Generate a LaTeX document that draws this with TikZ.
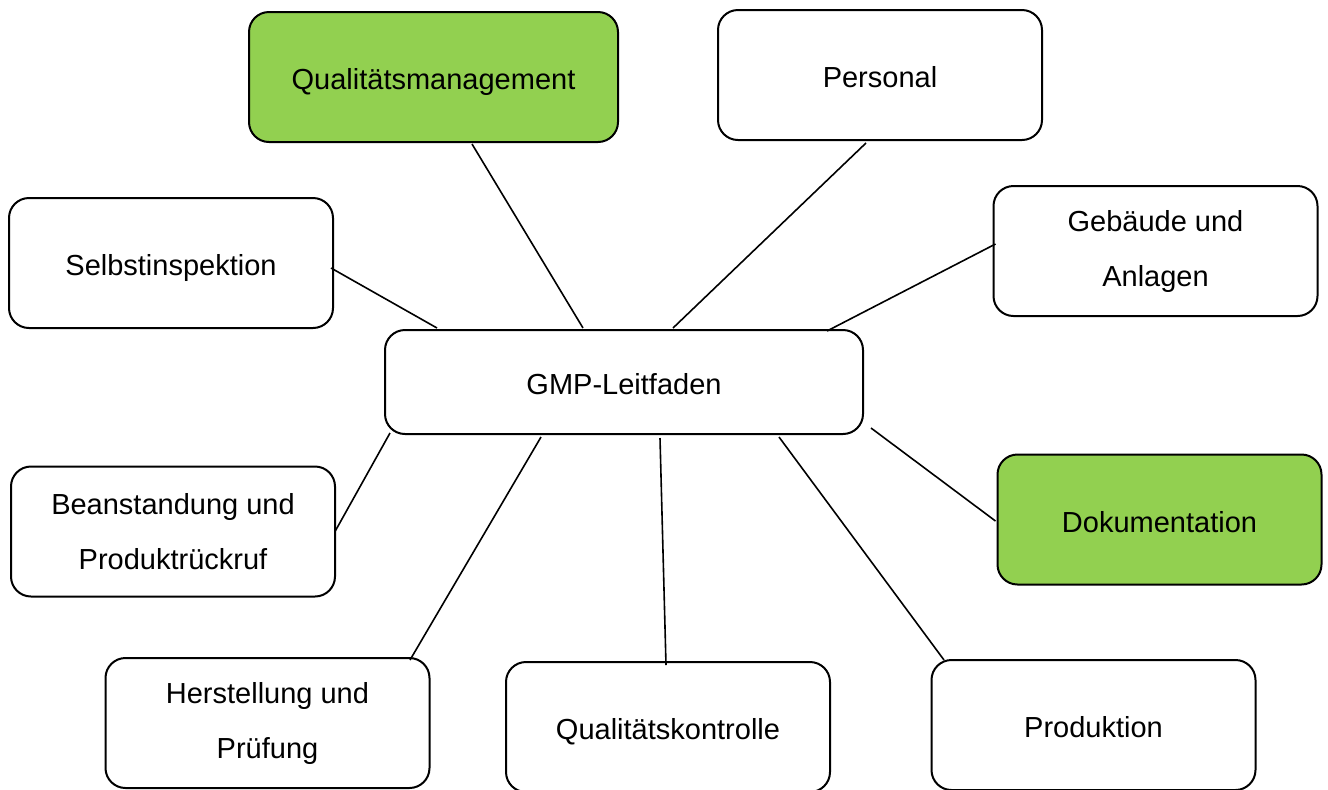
\documentclass[tikz,border=0pt]{standalone}
\usepackage{fontspec}
\setmainfont{Liberation Sans}
\usetikzlibrary{calc}

\definecolor{gmpgreen}{HTML}{92D050}

\tikzset{%
  every topic/.style={
    draw,
    line width=1pt,
    rounded corners=10pt,
    inner sep=0pt,
    minimum width=162pt,
    minimum height=65pt,
    align=center,
    font=\fontsize{14.5}{27.5}\selectfont
  },
  topic single/.style={
    text height=15.5pt,
    text depth=3pt
  },
  topic green/.style={
    fill=gmpgreen
  },
  link/.style={
    line width=0.8pt
  },
}

\begin{document}
\begin{tikzpicture}[x=0.5pt, y=-0.5pt]
  \useasboundingbox (0,0) rectangle (1328,789);

  % centre
  \node [every topic, topic single, minimum width=239pt, minimum height=52pt] (gmp) at (624,382) {GMP-Leitfaden};

  % topics round it
  \node [every topic, topic single, topic green, minimum width=184.5pt] (qm) at (433.5,77) {Qualitätsmanagement};
  \node [every topic, topic single] (personal) at (880,75) {Personal};
  \node [every topic, topic single] (selbst) at (171,263) {Selbstinspektion};
  \node [every topic] (gebaeude) at (1155.5,251) {Gebäude und\\Anlagen};
  \node [every topic] (beanst) at (173,531.5) {Beanstandung und\\Produktrückruf};
  \node [every topic, topic single, topic green] (doku) at (1159.5,519.5) {Dokumentation};
  \node [every topic] (herst) at (267.5,723) {Herstellung und\\Prüfung};
  \node [every topic, topic single] (qk) at (668,727) {Qualitätskontrolle};
  \node [every topic, topic single] (prod) at (1093.5,725) {Produktion};

  % links
  \draw [link] ($(qm.south)+(38.5,1)$) -- ($(gmp.north)+(-41,-1)$);
  \draw [link] ($(personal.south)+(-14,2)$) -- ($(gmp.north)+(49,-1)$);
  \draw [link] ($(selbst.east)+(-3,5)$) -- ($(gmp.north west)+(53,-1)$);
  \draw [link] ($(gebaeude.west)+(3,-7)$) -- ($(gmp.north east)+(-37,2)$);
  \draw [link] ($(beanst.east)+(-1,0)$) -- ($(gmp.south west)+(6,-2)$);
  \draw [link] ($(doku.west)+(-1,1.5)$) -- ($(gmp.south east)+(7,-7)$);
  \draw [link] ($(gmp.south)+(-83,2)$) -- ($(herst.north)+(142.5,3)$);
  \draw [link] ($(gmp.south)+(36,3)$) -- ($(qk.north)+(-2,4)$);
  \draw [link] ($(gmp.south)+(155,2)$) -- ($(prod.north)+(-149.5,1)$);

\end{tikzpicture}
\end{document}
